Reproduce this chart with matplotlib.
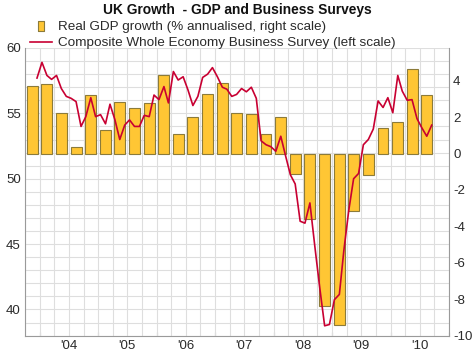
import matplotlib.pyplot as plt
import matplotlib.dates as mdates
from matplotlib.lines import Line2D
from matplotlib.ticker import MultipleLocator
import pandas as pd

plt.rcParams['font.family'] = ['Liberation Sans', 'DejaVu Sans']
plt.rcParams['axes.unicode_minus'] = False

# quarterly real GDP growth, % annualised (right scale)
gdp_quarters = pd.date_range('2003-10-01', periods=28, freq='QS')
gdp_growth = [3.7, 3.8, 2.25, 0.35, 3.2, 1.3, 2.85, 2.5,
              2.8, 4.3, 1.1, 2.0, 3.25, 3.85, 2.25, 2.15,
              1.1, 2.0, -1.1, -3.6, -8.4, -9.4, -3.15, -1.15,
              1.4, 1.75, 4.65, 3.2]

# monthly composite business survey (left scale)
survey_months = pd.date_range('2003-12-01', periods=82, freq='MS')
survey = [57.7,
          58.9, 57.9, 57.6, 57.9, 56.9, 56.3, 56.15, 55.9, 54.0, 54.75, 56.2, 54.75,
          54.9, 54.2, 55.7, 54.5, 53.0, 54.1, 54.5, 54.0, 54.0, 54.85, 54.75, 56.4,
          56.05, 57.05, 55.8, 58.2, 57.55, 57.8, 56.8, 55.6, 56.3, 57.75, 58.0, 58.5,
          57.8, 57.0, 56.85, 56.3, 56.45, 56.9, 56.65, 57.0, 56.15, 52.9, 52.6, 52.45,
          52.1, 53.25, 51.8, 50.3, 49.6, 46.75, 46.6, 48.15, 44.8, 41.7, 38.75, 38.85,
          40.75, 41.15, 44.5, 47.6, 50.0, 50.4, 52.6, 53.0, 53.8, 55.95, 55.45, 56.2,
          55.05, 57.9, 56.7, 56.0, 56.05, 54.6, 53.9, 53.25, 54.1]

bar_x = gdp_quarters + pd.Timedelta(days=45)
line_x = survey_months + pd.Timedelta(days=14)

bar_face = '#FFC634'
bar_edge = '#8C7B3A'
line_col = '#C80032'
grid_col = '#DEDEDE'
spine_col = '#9A9A9A'
text_col = '#2A2A2A'

fig = plt.figure(figsize=(4.74, 3.56), dpi=100)
ax = fig.add_axes([25 / 474, 1 - 335.6 / 356, 424 / 474, 287.6 / 356])
ax2 = ax.twinx()
ax3 = ax.twinx()

# grid + left scale on the bottom axes
ax.set_ylim(38, 60)
ax.set_xlim(pd.Timestamp('2003-10-01'), pd.Timestamp('2011-01-01'))
ax.yaxis.set_major_locator(MultipleLocator(5))
ax.yaxis.set_minor_locator(MultipleLocator(1))
ax.xaxis.set_major_locator(mdates.MonthLocator(bymonth=7))
ax.xaxis.set_major_formatter(mdates.DateFormatter("'%y"))
ax.xaxis.set_minor_locator(mdates.MonthLocator(bymonth=[1, 4, 7, 10]))
ax.grid(which='both', color=grid_col, linewidth=0.8)
ax.set_axisbelow(True)
ax.tick_params(axis='x', which='both', length=0, labelsize=9.5, pad=3, labelcolor=text_col)
ax.tick_params(axis='y', which='minor', length=0)
ax.tick_params(axis='y', which='major', length=0, labelsize=9.5, pad=3, labelcolor=text_col)
for s in ['top', 'right']:
    ax.spines[s].set_visible(False)
for s in ['left', 'bottom']:
    ax.spines[s].set_color(spine_col)
    ax.spines[s].set_linewidth(0.8)

# year boundary tick marks
sec = ax.secondary_xaxis('bottom')
sec.xaxis.set_major_locator(mdates.YearLocator())
sec.tick_params(direction='in', length=3, color=spine_col, labelbottom=False)
sec.spines['bottom'].set_visible(False)

# bars on the right scale
ax2.bar(bar_x, gdp_growth, width=68, color=bar_face, edgecolor=bar_edge, linewidth=0.8)
ax2.set_ylim(-10, 5.8)
ax2.yaxis.set_major_locator(MultipleLocator(2))
ax2.tick_params(axis='y', length=0, labelsize=9.5, pad=3, labelcolor=text_col)
for s in ['top', 'left', 'bottom']:
    ax2.spines[s].set_visible(False)
ax2.spines['right'].set_color(spine_col)
ax2.spines['right'].set_linewidth(0.8)

# survey line on top
ax3.plot(line_x, survey, color=line_col, linewidth=1.2)
ax3.set_ylim(38, 60)
ax3.set_yticks([])
for s in ax3.spines.values():
    s.set_visible(False)

fig.text(0.5, 1 - 10 / 356, 'UK Growth  - GDP and Business Surveys',
         ha='center', va='center', fontsize=9.9, fontweight='bold', color='#111111')

bar_marker = [(-0.35, -0.5), (0.35, -0.5), (0.35, 0.5), (-0.35, 0.5), (-0.35, -0.5)]
handles = [
    Line2D([], [], linestyle='none', marker=bar_marker, markersize=7,
           markerfacecolor=bar_face, markeredgecolor=bar_edge, markeredgewidth=0.8),
    Line2D([], [], color=line_col, linewidth=1.2),
]
labels = ['Real GDP growth (% annualised, right scale)',
          'Composite Whole Economy Business Survey (left scale)']
fig.legend(handles, labels, loc='upper left', bbox_to_anchor=(30 / 474, 1 - 21 / 356),
           frameon=False, fontsize=9.7, handlelength=1.6, handletextpad=0.5,
           labelspacing=0.25, borderaxespad=0, borderpad=0, labelcolor=text_col)

fig.savefig('out.png', dpi=100)
